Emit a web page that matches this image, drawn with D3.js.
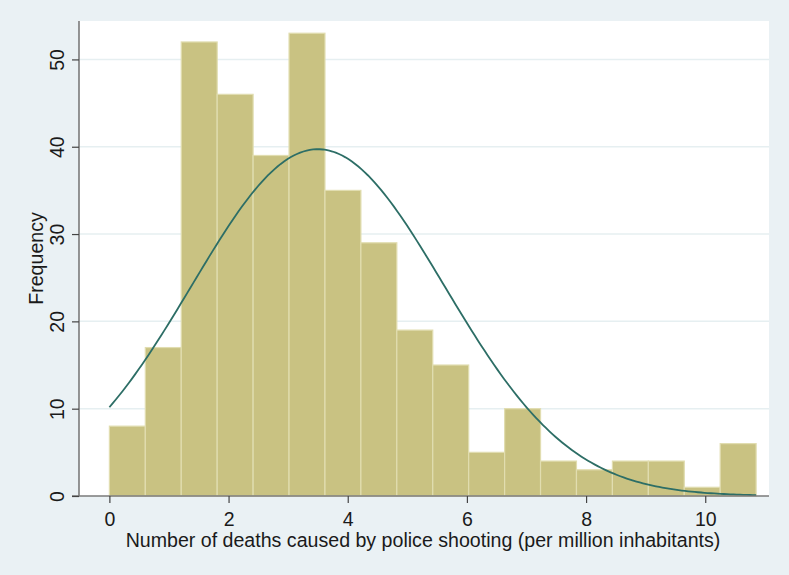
<!DOCTYPE html>
<html>
<head>
<meta charset="utf-8">
<script src="https://cdn.jsdelivr.net/npm/d3@7"></script>
<style>
  body { margin: 0; background: #eaf1f4; }
  svg { display: block; }
</style>
</head>
<body>
<div id="chart"></div>
<script>
// Histogram counts, one per bin, left to right.
const binCounts = [8, 17, 52, 46, 39, 53, 35, 29, 19, 15, 5, 10, 4, 3, 4, 4, 1, 6];
const binStart = 0;
const binWidth = 0.603;

// Tick values for the axes.
const xTicks = [0, 2, 4, 6, 8, 10];
const yTicks = [0, 10, 20, 30, 40, 50];

// Normal density overlay (fitted mean / sd).
const curveMean = 3.5;
const curveSd = 2.12;

const xTitle = "Number of deaths caused by police shooting (per million inhabitants)";
const yTitle = "Frequency";

// Size and plot region.
let width = 789;
let height = 575;
let plot = {left: 79, right: 769, top: 21, bottom: 496};

let svg = d3.select("#chart")
  .append("svg")
    .attr("width", width)
    .attr("height", height);

svg.append("rect")
  .attr("width", width)
  .attr("height", height)
  .attr("fill", "#eaf1f4");

svg.append("rect")
  .attr("x", plot.left)
  .attr("y", plot.top)
  .attr("width", plot.right - plot.left)
  .attr("height", plot.bottom - plot.top)
  .attr("fill", "white");

// Scales.
let x = d3.scaleLinear().domain([-0.51, 11.07]).range([plot.left, plot.right]);
let y = d3.scaleLinear().domain([0, 54.4]).range([plot.bottom, plot.top]);

// Horizontal grid lines.
svg.append("g")
  .selectAll("line")
  .data(yTicks.slice(1))
  .enter()
  .append("line")
    .attr("x1", plot.left)
    .attr("x2", plot.right)
    .attr("y1", d => y(d))
    .attr("y2", d => y(d))
    .attr("stroke", "#e6eff1")
    .attr("stroke-width", 1.5);

// Bars.
let bins = binCounts.map((c, i) => ({x0: binStart + i * binWidth, x1: binStart + (i + 1) * binWidth, n: c}));

svg.append("g")
  .selectAll("rect")
  .data(bins)
  .enter()
  .append("rect")
    .attr("x", d => x(d.x0))
    .attr("y", d => y(d.n))
    .attr("width", d => x(d.x1) - x(d.x0))
    .attr("height", d => y(0) - y(d.n))
    .attr("fill", "#c9c282")
    .attr("stroke", "#e1ddb0")
    .attr("stroke-width", 1.2);

// Normal curve scaled to counts.
let total = d3.sum(binCounts);
let xMax = binStart + binCounts.length * binWidth;
let curvePts = d3.range(0, 201).map(i => {
  let v = binStart + (xMax - binStart) * i / 200;
  let z = (v - curveMean) / curveSd;
  return [v, total * binWidth * Math.exp(-0.5 * z * z) / (curveSd * Math.sqrt(2 * Math.PI))];
});

svg.append("path")
  .datum(curvePts)
  .attr("fill", "none")
  .attr("stroke", "#2d6e66")
  .attr("stroke-width", 1.8)
  .attr("d", d3.line().x(d => x(d[0])).y(d => y(d[1])));

// Axes.
let fontFamily = "'Liberation Sans', Arial, sans-serif";

let xAxis = svg.append("g")
  .attr("transform", "translate(0," + plot.bottom + ")")
  .call(d3.axisBottom(x).tickValues(xTicks).tickSize(7).tickPadding(9).tickSizeOuter(0));

let yAxis = svg.append("g")
  .attr("transform", "translate(" + plot.left + ",0)")
  .call(d3.axisLeft(y).tickValues(yTicks).tickSize(7).tickPadding(4).tickSizeOuter(0));

[xAxis, yAxis].forEach(g => {
  g.select(".domain").attr("stroke", "#7a7a7a").attr("stroke-width", 1.6);
  g.selectAll(".tick line").attr("stroke", "#444").attr("stroke-width", 1.2);
  g.selectAll(".tick text")
    .attr("fill", "#1a1a1a")
    .style("font-family", fontFamily)
    .style("font-size", "19.5px");
});

// Make sure axis lines cover the whole plot region.
xAxis.select(".domain").attr("d", "M" + (plot.left - 7) + ",0H" + plot.right);
yAxis.select(".domain").attr("d", "M0," + plot.top + "V" + plot.bottom);

// Rotate y tick labels.
yAxis.selectAll(".tick text")
  .attr("transform", "rotate(-90)")
  .attr("x", 0)
  .attr("y", -15)
  .attr("dy", 0)
  .attr("text-anchor", "middle");

// Titles.
svg.append("text")
  .attr("x", (plot.left + plot.right) / 2 - 1)
  .attr("y", 547)
  .attr("text-anchor", "middle")
  .attr("fill", "#1a1a1a")
  .style("font-family", fontFamily)
  .style("font-size", "19.6px")
  .text(xTitle);

svg.append("text")
  .attr("transform", "translate(43," + ((plot.top + plot.bottom) / 2) + ") rotate(-90)")
  .attr("text-anchor", "middle")
  .attr("fill", "#1a1a1a")
  .style("font-family", fontFamily)
  .style("font-size", "19.6px")
  .text(yTitle);
</script>
</body>
</html>
